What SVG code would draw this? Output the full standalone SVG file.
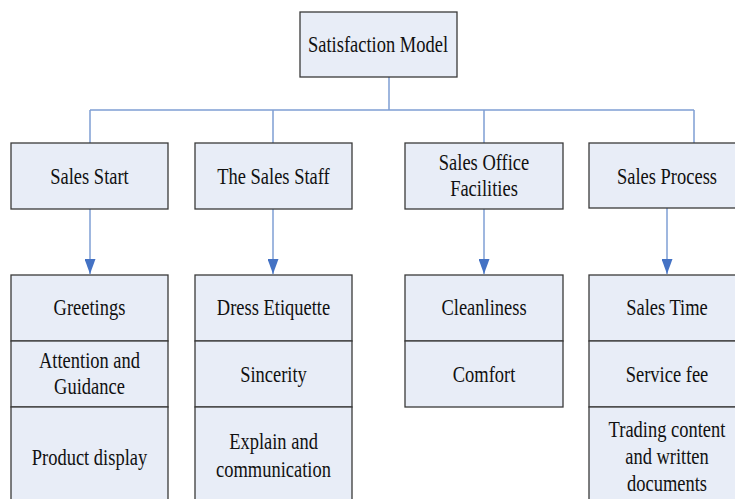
<svg xmlns="http://www.w3.org/2000/svg" width="735" height="499" viewBox="0 0 735 499">
<defs>
<style>
.box{fill:#e8edf7;stroke:#3a3a3a;stroke-width:1.3}
.ln{fill:none;stroke:#7f9fd4;stroke-width:1.5}
.t{font-family:"Liberation Serif","Times New Roman",serif;font-size:24px;fill:#111;text-anchor:middle}
</style>
<marker id="ah" markerWidth="15" markerHeight="11" refX="15" refY="5.5" orient="auto" markerUnits="userSpaceOnUse" viewBox="0 0 15 11">
<path d="M0,0 L15,5.5 L0,11 Z" fill="#4472c4"/>
</marker>
</defs>
<rect width="735" height="499" fill="#fff"/>
<g id="connectors">
<path class="ln" d="M389,77 V110 M90,110 H694 M90,110 V143 M273,110 V143 M484,110 V143 M694,110 V143"/>
<path class="ln" d="M90,209 V274" marker-end="url(#ah)"/>
<path class="ln" d="M273,209 V274" marker-end="url(#ah)"/>
<path class="ln" d="M484,209 V274" marker-end="url(#ah)"/>
<path class="ln" d="M667,208 V274" marker-end="url(#ah)"/>
</g>
<g id="root">
<rect class="box" x="300" y="12" width="157" height="65"/>
<text class="t" transform="translate(378,52) scale(0.77,1)">Satisfaction Model</text>
</g>
<g id="sales-start">
<rect class="box" x="11" y="143" width="157" height="66"/>
<text class="t" transform="translate(89.5,184) scale(0.77,1)">Sales Start</text>
</g>
<g id="sales-staff">
<rect class="box" x="195" y="143" width="157" height="66"/>
<text class="t" transform="translate(273.5,184) scale(0.77,1)">The Sales Staff</text>
</g>
<g id="sales-office">
<rect class="box" x="405" y="143" width="158" height="66"/>
<text class="t" transform="translate(484,170) scale(0.77,1)">Sales Office</text>
<text class="t" transform="translate(484,196) scale(0.77,1)">Facilities</text>
</g>
<g id="sales-process">
<rect class="box" x="589" y="143" width="158" height="65"/>
<text class="t" transform="translate(667,184) scale(0.77,1)">Sales Process</text>
</g>
<g id="col1">
<rect class="box" x="11" y="275" width="157" height="66"/>
<rect class="box" x="11" y="341" width="157" height="66"/>
<rect class="box" x="11" y="407" width="157" height="105"/>
<text class="t" transform="translate(89.5,315) scale(0.77,1)">Greetings</text>
<text class="t" transform="translate(89.5,368) scale(0.77,1)">Attention and</text>
<text class="t" transform="translate(89.5,394) scale(0.77,1)">Guidance</text>
<text class="t" transform="translate(89.5,465) scale(0.77,1)">Product display</text>
</g>
<g id="col2">
<rect class="box" x="195" y="275" width="157" height="66"/>
<rect class="box" x="195" y="341" width="157" height="66"/>
<rect class="box" x="195" y="407" width="157" height="105"/>
<text class="t" transform="translate(273.5,315) scale(0.77,1)">Dress Etiquette</text>
<text class="t" transform="translate(273.5,382) scale(0.77,1)">Sincerity</text>
<text class="t" transform="translate(273.5,449) scale(0.77,1)">Explain and</text>
<text class="t" transform="translate(273.5,477) scale(0.77,1)">communication</text>
</g>
<g id="col3">
<rect class="box" x="405" y="275" width="158" height="66"/>
<rect class="box" x="405" y="341" width="158" height="66"/>
<text class="t" transform="translate(484,315) scale(0.77,1)">Cleanliness</text>
<text class="t" transform="translate(484,382) scale(0.77,1)">Comfort</text>
</g>
<g id="col4">
<rect class="box" x="589" y="275" width="158" height="66"/>
<rect class="box" x="589" y="341" width="158" height="66"/>
<rect class="box" x="589" y="407" width="158" height="105"/>
<text class="t" transform="translate(667,315) scale(0.77,1)">Sales Time</text>
<text class="t" transform="translate(667,382) scale(0.77,1)">Service fee</text>
<text class="t" transform="translate(667,437) scale(0.77,1)">Trading content</text>
<text class="t" transform="translate(667,464) scale(0.77,1)">and written</text>
<text class="t" transform="translate(667,491) scale(0.77,1)">documents</text>
</g>
</svg>
